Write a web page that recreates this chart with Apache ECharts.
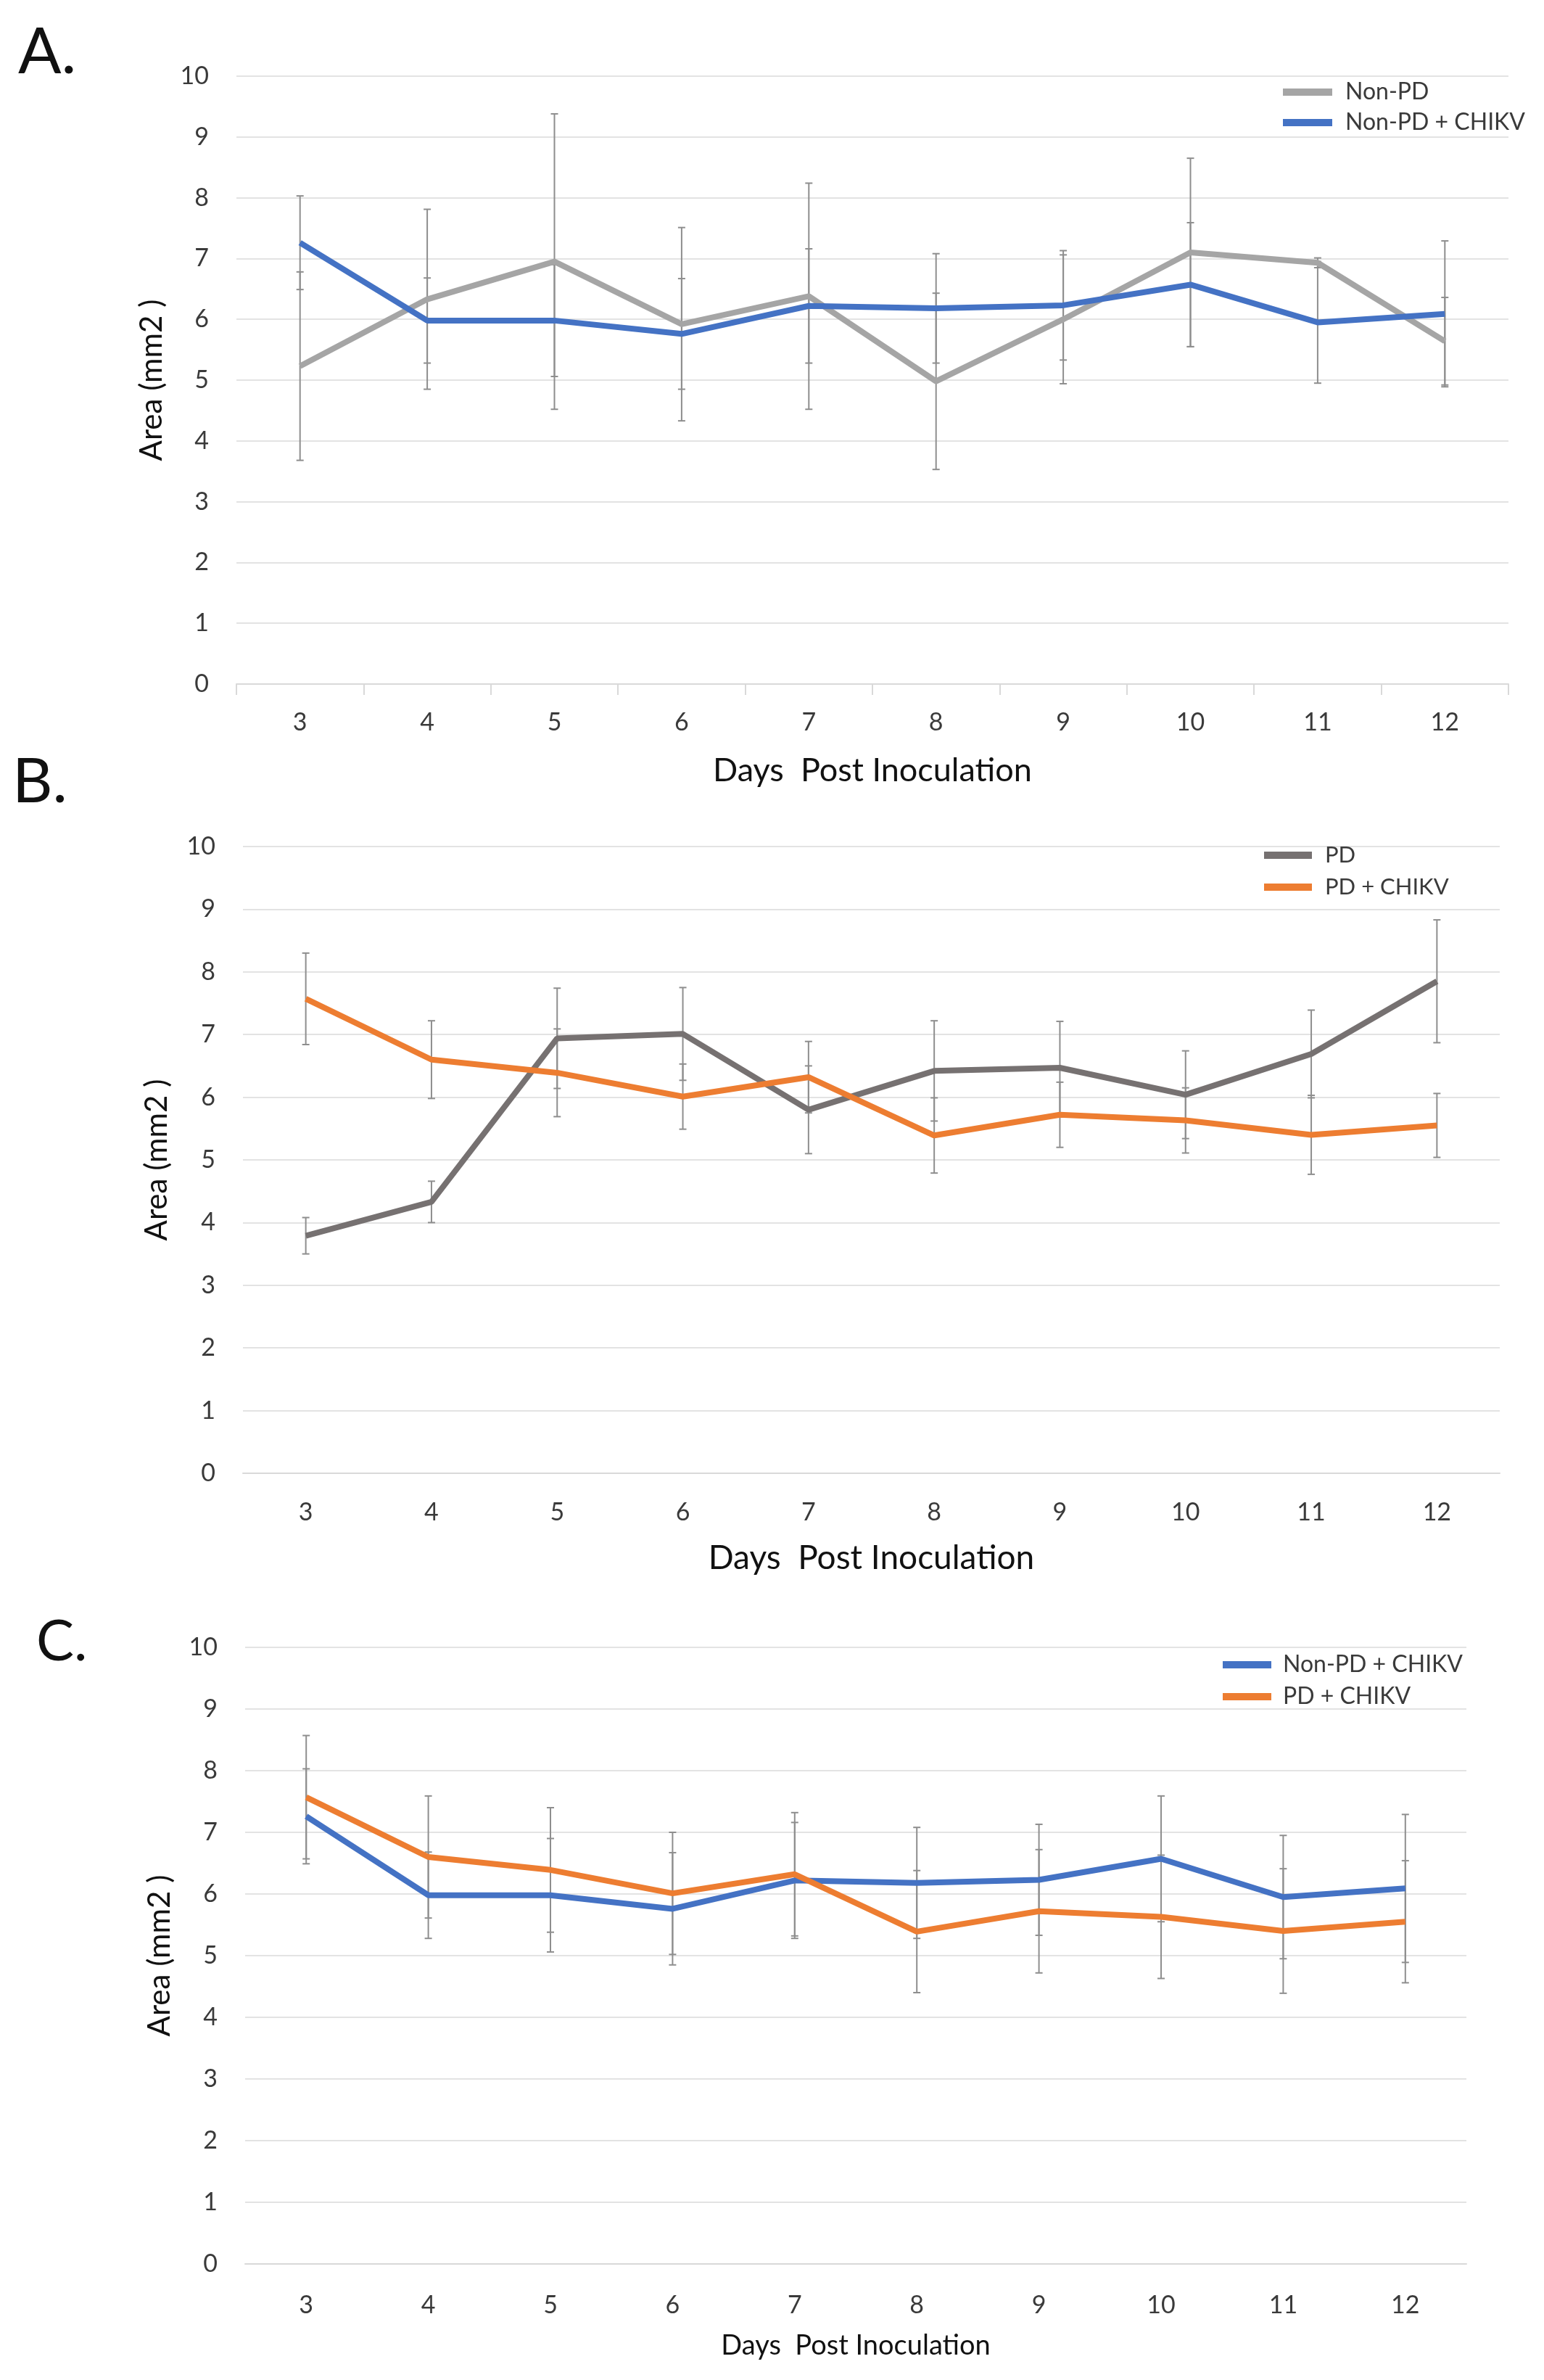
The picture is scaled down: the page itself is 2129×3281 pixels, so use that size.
<!DOCTYPE html>
<html>
<head>
<meta charset="utf-8">
<script src="https://cdn.jsdelivr.net/npm/echarts@6/dist/echarts.min.js"></script>
<style>
html,body{margin:0;padding:0;background:#fff;}
#chart{width:2129px;height:3281px;}
</style>
</head>
<body>
<div id="chart"></div>
<script>
// ---------- data ----------
const days = ['3','4','5','6','7','8','9','10','11','12'];
const yTicks = [0,1,2,3,4,5,6,7,8,9,10];

const nonPD          = [5.23, 6.33, 6.95, 5.92, 6.38, 4.98, 6.00, 7.10, 6.93, 5.64];
const nonPDErr       = [1.55, 1.48, 2.43, 1.59, 1.86, 1.45, 1.06, 1.55, 0.08, 0.72];
const nonPDChikv     = [7.26, 5.98, 5.98, 5.76, 6.22, 6.18, 6.23, 6.57, 5.95, 6.09];
const nonPDChikvErr  = [0.77, 0.70, 0.92, 0.91, 0.94, 0.90, 0.90, 1.02, 1.00, 1.20];
const pd             = [3.79, 4.33, 6.94, 7.01, 5.80, 6.42, 6.47, 6.04, 6.69, 7.85];
const pdErr          = [0.29, 0.33, 0.80, 0.74, 0.70, 0.80, 0.74, 0.70, 0.70, 0.98];
const pdChikv        = [7.57, 6.60, 6.39, 6.01, 6.32, 5.39, 5.72, 5.63, 5.40, 5.55];
const pdChikvErrB    = [0.73, 0.62, 0.70, 0.52, 0.57, 0.60, 0.52, 0.52, 0.63, 0.51];
const pdChikvErrC    = [1.00, 0.99, 1.01, 0.99, 1.00, 0.99, 1.00, 1.00, 1.01, 0.99];

const xName = 'Days  Post Inoculation';
const yName = 'Area (mm2 )';

// ---------- styles ----------
const FONT = 'Lato';
const C_NONPD = '#A5A5A5', C_BLUE = '#4472C4', C_PD = '#767171', C_ORANGE = '#ED7D31';
const GRIDLINE = '#E3E3E3';
const TXT = '#3A3A3A';

function errData(mean, err){
  return mean.map((m,i)=>[i, +(m-err[i]).toFixed(3), +(m+err[i]).toFixed(3)]);
}
function renderErr(params, api){
  const x = api.value(0);
  const lo = api.coord([x, api.value(1)]);
  const hi = api.coord([x, api.value(2)]);
  const cap = 5;
  const st = {stroke:'#8E8E8E', lineWidth:2};
  return {type:'group', children:[
    {type:'line', shape:{x1:hi[0], y1:hi[1], x2:lo[0], y2:lo[1]}, style:st},
    {type:'line', shape:{x1:hi[0]-cap, y1:hi[1], x2:hi[0]+cap, y2:hi[1]}, style:st},
    {type:'line', shape:{x1:lo[0]-cap, y1:lo[1], x2:lo[0]+cap, y2:lo[1]}, style:st}
  ]};
}

const grids = [
  {left:326, right:49,  top:105,  height:838},
  {left:335, right:61,  top:1167, height:864},
  {left:338, right:107, top:2271, height:850}
];
const xNameSize = [45, 46, 38];
const xNameGap  = [97, 94, 94];
const xLabelMargin = [36, 37, 40];
const yNameGap  = [96, 98, 97];

const xAxes = grids.map((g,i)=>({
  type:'category', gridIndex:i, data:days, boundaryGap:true,
  name:xName, nameLocation:'middle', nameGap:xNameGap[i],
  nameTextStyle:{fontFamily:FONT, fontSize:xNameSize[i], color:'#111'},
  axisLine:{show:true, lineStyle:{color:'#D9D9D9', width:2}},
  axisTick:{show:i===0, length:15, lineStyle:{color:'#D9D9D9', width:2}},
  axisLabel:{fontFamily:FONT, fontSize:34, color:TXT, margin:xLabelMargin[i]}
}));
const yAxes = grids.map((g,i)=>({
  type:'value', gridIndex:i, min:0, max:10, interval:1,
  name:yName, nameLocation:'middle', nameGap:yNameGap[i],
  nameTextStyle:{fontFamily:FONT, fontSize:42, color:'#111'},
  axisLine:{show:false}, axisTick:{show:false},
  axisLabel:{fontFamily:FONT, fontSize:34, color:TXT, margin:38,
    formatter:(v)=> yTicks.includes(v) ? String(v) : ''},
  splitLine:{show:true, lineStyle:{color:GRIDLINE, width:2}}
}));

function lineSeries(name, data, color, gi){
  return {type:'line', name, data, xAxisIndex:gi, yAxisIndex:gi,
    symbol:'none', z:3, lineStyle:{color, width:8}, itemStyle:{color}};
}
function errSeries(mean, err, gi){
  return {type:'custom', xAxisIndex:gi, yAxisIndex:gi, z:2,
    data:errData(mean, err), encode:{x:0, y:[1,2]}, renderItem:renderErr, silent:true};
}

const series = [
  // A
  errSeries(nonPD, nonPDErr, 0),
  errSeries(nonPDChikv, nonPDChikvErr, 0),
  lineSeries('Non-PD', nonPD, C_NONPD, 0),
  lineSeries('Non-PD + CHIKV', nonPDChikv, C_BLUE, 0),
  // B
  errSeries(pd, pdErr, 1),
  errSeries(pdChikv, pdChikvErrB, 1),
  lineSeries('PD', pd, C_PD, 1),
  lineSeries('PD + CHIKV', pdChikv, C_ORANGE, 1),
  // C
  errSeries(nonPDChikv, nonPDChikvErr, 2),
  errSeries(pdChikv, pdChikvErrC, 2),
  lineSeries('Non-PD + CHIKV', nonPDChikv, C_BLUE, 2),
  lineSeries('PD + CHIKV', pdChikv, C_ORANGE, 2)
];

function legend(names, left, top, w, gap, lh, fs){
  return {orient:'vertical', left, top, data:names, icon:'rect',
    itemWidth:w, itemHeight:10, itemGap:0, selectedMode:false,
    textStyle:{fontFamily:FONT, fontSize:fs, color:TXT, lineHeight:lh, padding:[0,0,0,gap]}};
}

const option = {
  backgroundColor:'#fff',
  animation:false,
  title:[
    {text:'A.', left:20, top:24, textStyle:{fontFamily:FONT, fontWeight:'normal', fontSize:88, color:'#111'}},
    {text:'B.', left:12, top:1030, textStyle:{fontFamily:FONT, fontWeight:'normal', fontSize:86, color:'#111'}},
    {text:'C.', left:45, top:2220, textStyle:{fontFamily:FONT, fontWeight:'normal', fontSize:78, color:'#111'}}
  ],
  legend:[
    legend(['Non-PD','Non-PD + CHIKV'], 1764, 101, 68, 13, 42, 32),
    legend(['PD','PD + CHIKV'], 1738, 1152, 66, 13, 44, 31),
    legend(['Non-PD + CHIKV','PD + CHIKV'], 1681, 2268, 67, 11, 44, 32)
  ],
  grid:grids,
  xAxis:xAxes,
  yAxis:yAxes,
  series
};

const chart = echarts.init(document.getElementById('chart'), null, {renderer:'canvas'});
chart.setOption(option);
</script>
</body>
</html>
